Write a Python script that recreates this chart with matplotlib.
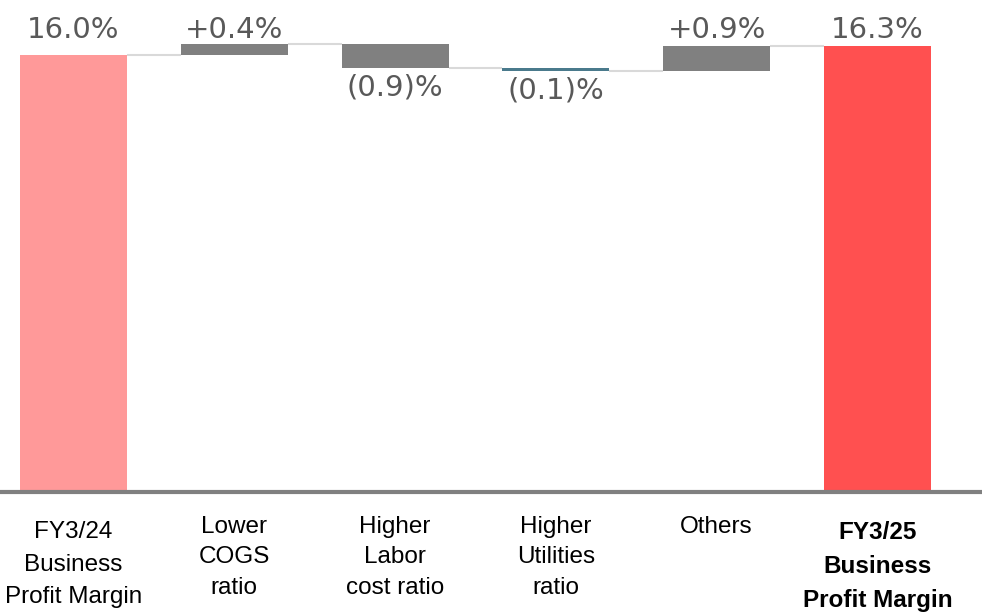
import matplotlib
matplotlib.use("Agg")
import matplotlib.pyplot as plt
from matplotlib.transforms import ScaledTranslation

# ---- data ----
categories = ["FY3/24\nBusiness\nProfit Margin", "Lower\nCOGS\nratio",
              "Higher\nLabor\ncost ratio", "Higher\nUtilities\nratio",
              "Others", "FY3/25\nBusiness\nProfit Margin"]
start_value = 16.0
deltas = [0.4, -0.9, -0.1, 0.9]
end_value = 16.3
value_labels = ["16.0%", "+0.4%", "(0.9)%", "(0.1)%", "+0.9%", "16.3%"]

# ---- styles ----
start_color = "#FF9999"
end_color = "#FF5050"
delta_colors = ["#808080", "#808080", "#4A7A8C", "#808080"]
label_color = "#595959"
connector_color = "#D9D9D9"

fig = plt.figure(figsize=(9.82, 6.14), dpi=100)
ax = fig.add_axes([0, 122 / 614, 1, 1 - 122 / 614])

n = len(categories)
xs = list(range(n))
width = 0.665

bottoms = [0.0]
heights = [start_value]
colors = [start_color]
levels = [start_value]
cum = start_value
for d, c in zip(deltas, delta_colors):
    bottoms.append(min(cum, cum + d))
    heights.append(abs(d))
    colors.append(c)
    cum += d
    levels.append(cum)
bottoms.append(0.0)
heights.append(end_value)
colors.append(end_color)
levels.append(end_value)

ax.bar(xs, heights, bottom=bottoms, width=width, color=colors, zorder=3)

# connectors
for i in range(n - 1):
    ax.plot([xs[i] + width / 2, xs[i + 1] - width / 2], [levels[i], levels[i]],
            color=connector_color, lw=1.5, zorder=2, solid_capstyle="butt")

# value labels
top_level = max(b + h for b, h in zip(bottoms, heights))
vals = [start_value] + deltas + [end_value]
for i, (v, lab) in enumerate(zip(vals, value_labels)):
    if v >= 0:
        ax.annotate(lab, (xs[i], top_level), xytext=(0, 0), textcoords="offset points",
                    ha="center", va="bottom", fontsize=21, color=label_color,
                    family="DejaVu Sans", zorder=4, annotation_clip=False)
    else:
        ax.annotate(lab, (xs[i], bottoms[i]), xytext=(0, -4), textcoords="offset points",
                    ha="center", va="top", fontsize=21, color=label_color,
                    family="DejaVu Sans", zorder=4, annotation_clip=False)

# baseline
ax.axhline(0, color="#808080", lw=3, zorder=4, clip_on=False)

ax.set_xlim(-0.457, 5.65)
ax.set_ylim(0, 18.0)
ax.set_xticks(xs)
ax.set_xticklabels(categories, fontsize=17.5, family="Liberation Sans", color="black")
ax.tick_params(axis="x", length=0, pad=17)
labels = ax.get_xticklabels()
for t in labels:
    t.set_linespacing(1.5)
for t in (labels[0], labels[-1]):
    t.set_linespacing(1.62)
    t.set_transform(t.get_transform() + ScaledTranslation(0, -4 / 72, fig.dpi_scale_trans))
labels[-1].set_fontweight("bold")
ax.set_yticks([])
for s in ax.spines.values():
    s.set_visible(False)

fig.savefig("out.png", dpi=100)
